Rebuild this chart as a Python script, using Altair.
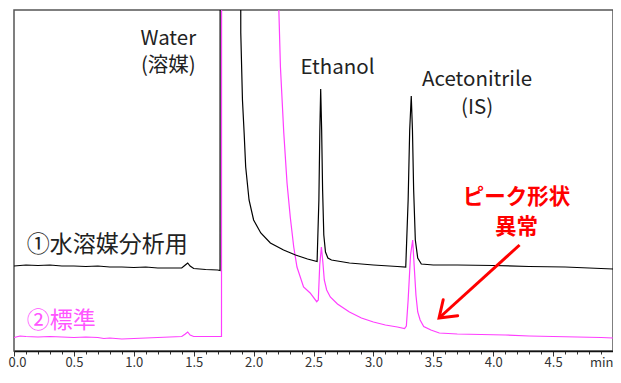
import altair as alt
import pandas as pd

# ---- chromatogram ①水溶媒分析用 (black) ----
T_BLACK = [0.00, 0.05, 0.10, 0.20, 0.30, 0.40, 0.50, 0.60, 0.70, 0.80, 0.90, 1.00,
           1.10, 1.20, 1.30, 1.40, 1.43, 1.45, 1.47, 1.50, 1.55, 1.60, 1.70, 1.72,
           1.722, 1.886, 1.893, 1.907, 1.921, 1.934, 1.962, 2.00, 2.06, 2.14, 2.25,
           2.35, 2.45, 2.53, 2.545, 2.553, 2.560, 2.568, 2.576, 2.586, 2.60, 2.62,
           2.65, 2.80, 3.00, 3.20, 3.27, 3.29, 3.303, 3.316, 3.326, 3.336, 3.350,
           3.37, 3.40, 3.50, 3.70, 4.00, 4.30, 4.60, 4.80, 5.00]
V_BLACK = [96, 96.5, 97, 96.5, 97, 96, 96, 95.5, 96, 95, 95, 94.5,
           95, 94, 94, 94, 97, 99, 96, 93.5, 93, 92.5, 92, 91.5,
           1000, 1000, 329, 262, 229, 195, 162, 142, 129, 119, 112,
           107, 103, 100.5, 162, 232, 273, 232, 172, 127, 110, 104,
           102, 99, 97, 95.5, 95, 162, 232, 266, 232, 172, 122,
           104, 98, 97, 97, 96.5, 95.5, 95, 94, 93]

# ---- chromatogram ②標準 (magenta) ----
T_MAG = [0.00, 0.05, 0.10, 0.20, 0.30, 0.40, 0.50, 0.60, 0.70, 0.75, 0.80, 0.90,
         1.00, 1.10, 1.20, 1.30, 1.40, 1.43, 1.45, 1.47, 1.50, 1.60, 1.72, 1.732,
         1.734, 2.205, 2.211, 2.224, 2.252, 2.279, 2.306, 2.335, 2.362, 2.417,
         2.472, 2.527, 2.540, 2.552, 2.566, 2.578, 2.59, 2.61, 2.64, 2.70, 2.80,
         2.90, 3.00, 3.10, 3.20, 3.26, 3.275, 3.29, 3.31, 3.328, 3.34, 3.355,
         3.37, 3.39, 3.42, 3.48, 3.55, 3.70, 3.90, 4.10, 4.30, 4.50, 4.70, 4.90, 5.00]
V_MAG = [24.5, 26, 25.5, 25, 25.5, 25, 24.5, 25, 24.5, 23.5, 24, 23,
         23.5, 24, 24.5, 25, 25.5, 28, 30, 27, 25.5, 25.5, 25.5, 25.5,
         1000, 1000, 351, 295, 229, 179, 145, 115, 95, 75,
         69, 60.3, 62, 97, 115, 100, 82, 72, 65, 58, 50,
         44, 40, 37, 35, 33.5, 36, 62, 107, 122, 97, 67,
         50, 42, 35.5, 32, 29, 28, 27.5, 27, 26, 25.5, 25, 24.5, 24]

# ---- labels ----
PEAK_TEXT = ["Water", "(溶媒)", "Ethanol", "Acetonitrile", "(IS)"]
PEAK_T = [1.288, 1.288, 2.70, 3.865, 3.865]
PEAK_V = [323, 296, 294, 282, 254]

TRACE_TEXT = ["①水溶媒分析用", "②標準"]
TRACE_T = [0.107, 0.107]
TRACE_V = [117, 41]
TRACE_COL = ["#222222", "#ff55ff"]

NOTE_TEXT = ["ピーク形状", "異常"]
NOTE_T = [4.195, 4.195]
NOTE_V = [164, 134]

ARROW_T = [4.22]
ARROW_V = [117]
ARROW_T2 = [3.548]
ARROW_V2 = [44]

TICKS = [round(i * 0.1, 1) for i in range(51)]

FONT = "Noto Sans CJK JP"

black = pd.DataFrame({"t": T_BLACK, "v": V_BLACK})
mag = pd.DataFrame({"t": T_MAG, "v": V_MAG})

is_major = "abs(datum.value*2 - round(datum.value*2)) < 0.001"

xscale = alt.Scale(domain=[0, 5], nice=False, zero=False)
yscale = alt.Scale(domain=[11, 352], nice=False, zero=False)

xaxis = alt.Axis(
    values=TICKS,
    title=None,
    grid=False,
    labelExpr=f"{is_major} ? (datum.value > 4.99 ? 'min' : format(datum.value, '.1f')) : ''",
    labelOverlap=False,
    labelBound=False,
    labelFlush=False,
    labelFont=FONT,
    labelFontSize=13,
    labelColor="#333333",
    labelPadding=0,
    labelAlign={"condition": [{"test": "datum.value > 4.99", "value": "right"},
                              {"test": "datum.value < 0.01", "value": "left"}],
                "value": "center"},
    labelOffset={"condition": {"test": "datum.value < 0.01", "value": -6}, "value": 0},
    tickSize={"condition": {"test": is_major, "value": 5}, "value": 3},
    tickColor="#333333",
    tickWidth=1,
    domainColor="#111111",
    domainWidth=1.5,
)

X = alt.X("t:Q", scale=xscale, axis=xaxis)
Y = alt.Y("v:Q", scale=yscale, axis=None)

mag_line = alt.Chart(mag).mark_line(clip=True, strokeWidth=1.2, color="#ff3dff").encode(x=X, y=Y, order="t:Q")
black_line = alt.Chart(black).mark_line(clip=True, strokeWidth=1.2, color="#000000").encode(x=X, y=Y, order="t:Q")

peak_df = pd.DataFrame({"t": PEAK_T, "v": PEAK_V, "text": PEAK_TEXT})
peak_txt = alt.Chart(peak_df).mark_text(font=FONT, fontSize=20.5, color="#222222", align="center",
                                        baseline="middle").encode(x=X, y=Y, text="text:N")

trace_df = pd.DataFrame({"t": TRACE_T, "v": TRACE_V, "text": TRACE_TEXT, "c": TRACE_COL})
trace_txt = alt.Chart(trace_df).mark_text(font=FONT, fontSize=23, align="left", baseline="middle").encode(
    x=X, y=Y, text="text:N", color=alt.Color("c:N", scale=None))

note_df = pd.DataFrame({"t": NOTE_T, "v": NOTE_V, "text": NOTE_TEXT})
note_txt = alt.Chart(note_df).mark_text(font=FONT, fontSize=21.5, fontWeight="bold", color="#ff0000",
                                        align="center", baseline="middle").encode(x=X, y=Y, text="text:N")

arrow_df = pd.DataFrame({"t": ARROW_T, "v": ARROW_V, "t2": ARROW_T2, "v2": ARROW_V2})
shaft = alt.Chart(arrow_df).mark_rule(color="#ff0000", strokeWidth=3).encode(
    x=X, y=Y, x2="t2:Q", y2="v2:Q")
head = alt.Chart(arrow_df).mark_point(
    shape="M -0.6 0.85 L 0 0 L 0.6 0.85", filled=False, stroke="#ff0000", strokeWidth=3,
    size=1300, angle=228, opacity=1, strokeCap="round", strokeJoin="miter"
).encode(x=alt.X("t2:Q", scale=xscale, axis=xaxis), y=alt.Y("v2:Q", scale=yscale, axis=None))

chart = alt.layer(mag_line, black_line, peak_txt, trace_txt, note_txt, shaft, head).properties(
    width=599, height=341,
    padding={"left": 6, "top": 2, "right": 0, "bottom": 18},
    autosize="none",
    background="#ffffff",
).configure_view(stroke="#555555", strokeWidth=1.5)

chart.save("out.html", embed_options={"renderer": "svg", "actions": False})
